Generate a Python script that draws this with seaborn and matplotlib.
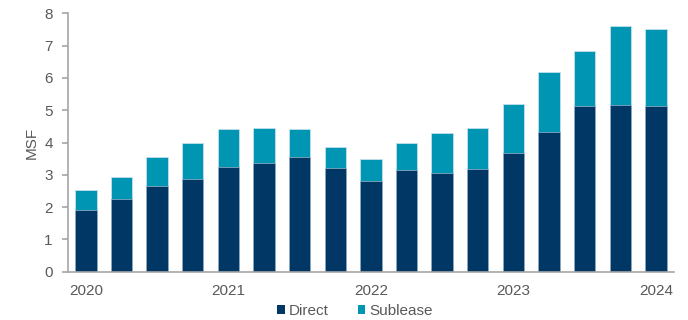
import matplotlib
matplotlib.use("Agg")
import matplotlib.pyplot as plt
import seaborn as sns
import numpy as np
from matplotlib.patches import Patch

# ---- data ----
quarters = ["2020 Q1", "2020 Q2", "2020 Q3", "2020 Q4",
            "2021 Q1", "2021 Q2", "2021 Q3", "2021 Q4",
            "2022 Q1", "2022 Q2", "2022 Q3", "2022 Q4",
            "2023 Q1", "2023 Q2", "2023 Q3", "2023 Q4",
            "2024 Q1"]
direct = [1.91, 2.24, 2.65, 2.88, 3.23, 3.37, 3.56, 3.22, 2.82,
          3.14, 3.07, 3.19, 3.69, 4.32, 5.14, 5.17, 5.14]
sublease = [0.62, 0.68, 0.89, 1.11, 1.20, 1.08, 0.87, 0.65, 0.66,
            0.83, 1.22, 1.27, 1.51, 1.85, 1.70, 2.44, 2.37]
year_labels = ["2020", "2021", "2022", "2023", "2024"]
series_names = ["Direct", "Sublease"]

NAVY = "#003764"
TEAL = "#0095b3"
TEXT = "#595959"
AXIS = "#a6a6a6"

sns.set_style("white")
plt.rcParams["font.family"] = ["Liberation Sans", "DejaVu Sans"]
plt.rcParams["font.size"] = 11

totals = [d + s for d, s in zip(direct, sublease)]

fig = plt.figure(figsize=(6.88, 3.2), dpi=100)
ax = fig.add_axes([68 / 688, 1 - 271.7 / 320, 605.7 / 688, 258.4 / 320])

sns.barplot(x=quarters, y=totals, color=TEAL, saturation=1, width=0.6,
            edgecolor="#cfe6ee", linewidth=0.5, ax=ax)
sns.barplot(x=quarters, y=direct, color=NAVY, saturation=1, width=0.6,
            edgecolor="#9fb3c6", linewidth=0.5, ax=ax)

ax.set_xlim(-0.5, len(quarters) - 0.5)
ax.set_ylim(0, 8)
ax.set_yticks(range(0, 9))

label_pos = [i for i, q in enumerate(quarters) if q.endswith("Q1")]
ax.set_xticks(label_pos)
ax.set_xticklabels(year_labels)
ax.set_xticks([p - 0.5 for p in label_pos], minor=True)
ax.tick_params(axis="x", which="major", length=0, pad=8.5, labelsize=11, labelcolor=TEXT)
ax.tick_params(axis="x", which="minor", length=4, width=1.2, color=AXIS, direction="out")
ax.tick_params(axis="y", length=4, width=1.2, color=AXIS, pad=7, labelsize=11,
               labelcolor=TEXT, left=True, direction="out")

for s in ["top", "right"]:
    ax.spines[s].set_visible(False)
for s in ["left", "bottom"]:
    ax.spines[s].set_color(AXIS)
    ax.spines[s].set_linewidth(1.2)

ax.set_xlabel("")
ax.set_ylabel("MSF", color=TEXT, fontsize=11, labelpad=4)
ax.grid(False)

handles = [Patch(facecolor=NAVY, edgecolor="none"), Patch(facecolor=TEAL, edgecolor="none")]
fig.legend(handles, series_names, ncol=2, loc="center",
           bbox_to_anchor=(355 / 688, 1 - 311 / 320), frameon=False,
           handlelength=0.5, handleheight=0.5, handletextpad=0.25,
           columnspacing=1.9, fontsize=11, labelcolor=TEXT,
           borderpad=0, borderaxespad=0)

fig.savefig("out.png", dpi=100)
